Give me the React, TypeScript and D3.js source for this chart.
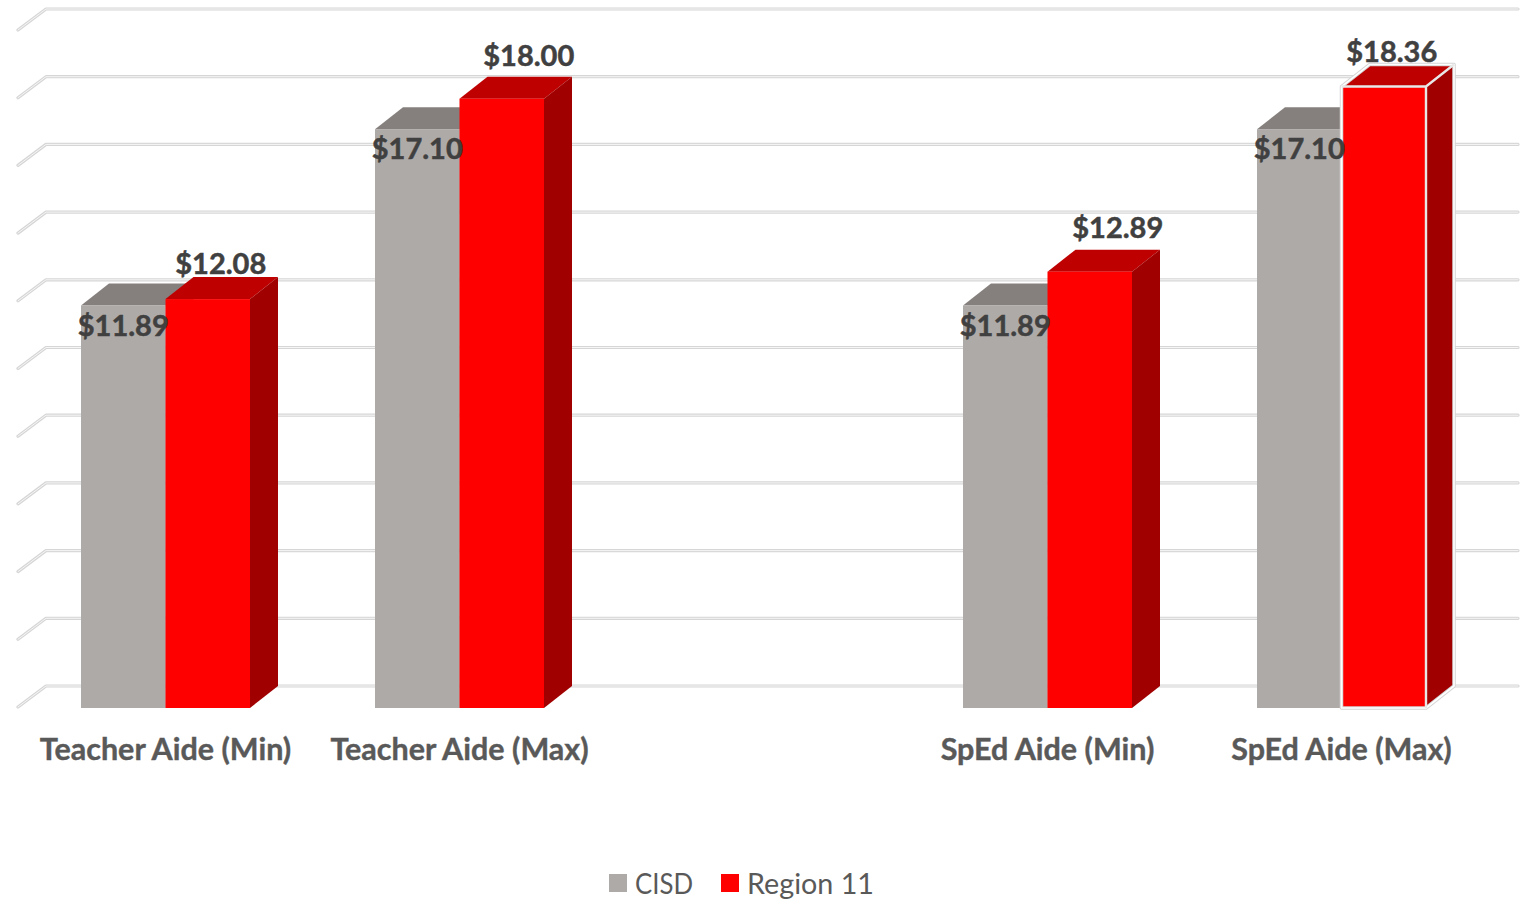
import React from "react";
import * as d3 from "d3";

const categories = ["Teacher Aide (Min)", "Teacher Aide (Max)", "", "SpEd Aide (Min)", "SpEd Aide (Max)"];
const seriesNames = ["CISD", "Region 11"];
const cisd: (number | null)[] = [11.89, 17.1, null, 11.89, 17.1];
const region11: (number | null)[] = [12.08, 18.0, null, 12.89, 18.36];
const gridTicks = d3.range(0, 21, 2);

const labelDx = [13, 27, 0, 28, 8];
const labelDy = [-37, -44, 0, -45, -36];
const legendWidths = [58, 127];

const x = d3.scaleBand<number>().domain(d3.range(categories.length)).range([18.5, 1488.5]).paddingInner(0).paddingOuter(0);
const y = d3.scaleLinear().domain([0, 20]).range([708, 31]);
const DX = 28;
const DY = -22;
const BW = 84.5;
const FONT = "Lato, Carlito, sans-serif";
const money = d3.format("$.2f");

const colors = [
  { front: "#aeaaa8", top: "#85807e", side: "#85807e" },
  { front: "#ff0000", top: "#bf0000", side: "#a00000" },
];

function Bar({ x0, v, c, hi }: { x0: number; v: number; c: (typeof colors)[number]; hi?: boolean }) {
  const yt = y(v);
  const yb = y(0);
  const x1 = x0 + BW;
  const top = `M${x0},${yt}L${x0 + DX},${yt + DY}L${x1 + DX},${yt + DY}L${x1},${yt}Z`;
  const side = `M${x1},${yt}L${x1 + DX},${yt + DY}L${x1 + DX},${yb + DY}L${x1},${yb}Z`;
  const outline = `M${x0},${yb}L${x0},${yt}L${x0 + DX},${yt + DY}L${x1 + DX},${yt + DY}L${x1 + DX},${yb + DY}L${x1},${yb}Z`;
  return (
    <g>
      <path d={top} fill={c.top} />
      <path d={side} fill={c.side} />
      <rect x={x0} y={yt} width={BW} height={yb - yt} fill={c.front} />
      {hi && (
        <g fill="none" strokeLinejoin="round">
          <path d={outline} stroke="#d4d4d4" strokeWidth={3.5} />
          <path d={outline} stroke="#ffffff" strokeWidth={1.6} />
          <path d={`M${x0},${yt}H${x1}V${yb}M${x1},${yt}L${x1 + DX},${yt + DY}`} stroke="#e8e8e8" strokeWidth={2.4} />
        </g>
      )}
    </g>
  );
}

export default function App() {
  return (
    <svg width={1524} height={899} style={{ position: "absolute", left: 0, top: 0, display: "block", background: "#fff" }}>
      {gridTicks.map((t) => {
        const yy = y(t);
        const d = `M18,${yy - 1}L${18 + DX},${yy + DY}H1518`;
        return (
          <g key={t} fill="none" strokeLinecap="round" strokeLinejoin="round">
            <path d={d} stroke="#d6d6d6" strokeWidth={3.2} />
            <path d={d} stroke="#f6f6f6" strokeWidth={1} />
          </g>
        );
      })}
      {categories.map((_, i) => {
        const a = cisd[i];
        const b = region11[i];
        if (a == null || b == null) return null;
        const cx = x(i)! + x.bandwidth() / 2;
        return (
          <g key={i}>
            <Bar x0={cx - BW} v={a} c={colors[0]} />
            <Bar x0={cx} v={b} c={colors[1]} hi={i === 4} />
          </g>
        );
      })}
      {categories.map((_, i) => {
        const a = cisd[i];
        const b = region11[i];
        if (a == null || b == null) return null;
        const cx = x(i)! + x.bandwidth() / 2;
        return (
          <g key={i} fontFamily={FONT} fontWeight={700} fontSize={29} fill="#404040" stroke="#404040" strokeWidth={0.5} textAnchor="middle">
            <text x={cx - BW / 2} y={y(a) + 18.5} dominantBaseline="central">{money(a)}</text>
            <text x={cx + BW / 2 + labelDx[i]} y={y(b) + labelDy[i]} dominantBaseline="central">{money(b)}</text>
          </g>
        );
      })}
      {categories.map((c, i) => (
        <text key={i} x={x(i)! + x.bandwidth() / 2} y={748} dominantBaseline="central" textAnchor="middle"
          fontFamily={FONT} fontWeight={700} fontSize={30.5} fill="#595959" stroke="#595959" strokeWidth={0.4}>{c}</text>
      ))}
      {seriesNames.map((n, i) => {
        const sx = [609, 721][i];
        return (
          <g key={n}>
            <rect x={sx} y={874} width={18} height={18} fill={colors[i].front} />
            <text x={sx + 26} y={882} dominantBaseline="central" fontFamily={FONT} fontSize={29} fill="#595959"
              textLength={legendWidths[i]} lengthAdjust="spacingAndGlyphs">{n}</text>
          </g>
        );
      })}
    </svg>
  );
}
